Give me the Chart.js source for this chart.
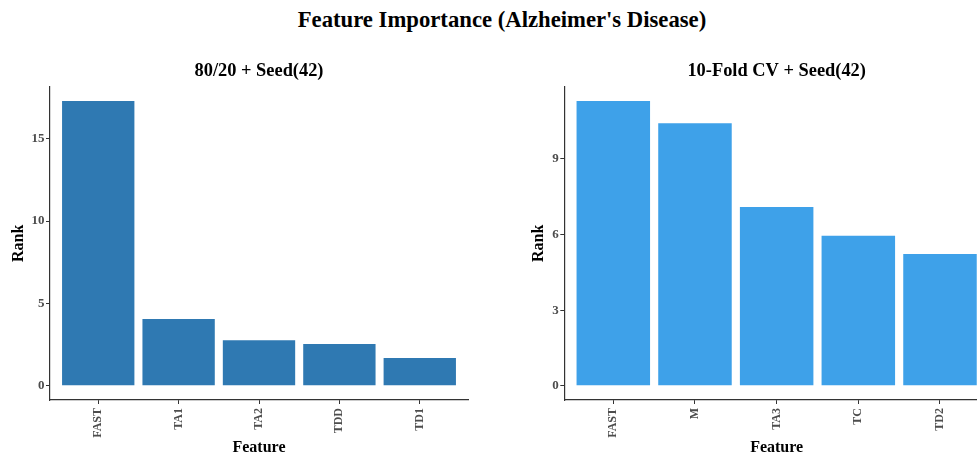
<!DOCTYPE html>
<html><head><meta charset="utf-8">
<script src="https://cdn.jsdelivr.net/npm/chart.js@4"></script>
<style>
html,body{margin:0;padding:0;width:977px;height:453px;overflow:hidden;background:#fff;}
#title{position:absolute;left:0;top:6px;width:1004px;text-align:center;font:bold 22.7px "Liberation Serif";color:#000;line-height:28px;}
.c{position:absolute;top:50px;}
</style></head><body>
<div id="title"></div>
<canvas id="c1" class="c" style="left:0px" width="490" height="410"></canvas>
<canvas id="c2" class="c" style="left:490px" width="520" height="410"></canvas>
<script>
const mainTitle = "Feature Importance (Alzheimer's Disease)";
const leftTitle = "80/20 + Seed(42)";
const rightTitle = "10-Fold CV + Seed(42)";
const xAxisTitle = "Feature";
const yAxisTitle = "Rank";
const leftFeatures = ["FAST", "TA1", "TA2", "TDD", "TD1"];
const leftRanks = [17.3, 4.05, 2.76, 2.53, 1.68];
const leftTicks = [0, 5, 10, 15];
const rightFeatures = ["FAST", "M", "TA3", "TC", "TD2"];
const rightRanks = [11.3, 10.41, 7.09, 5.95, 5.23];
const rightTicks = [0, 3, 6, 9];

document.getElementById('title').textContent = mainTitle;

const FAMILY = '"Liberation Serif", "Times New Roman", serif';

function makeChart(id, features, ranks, ticks, title, color, yWidth, rightPad, rankPad) {
  const maxV = Math.max(...ranks);
  const expand = maxV * 0.05;
  return new Chart(document.getElementById(id), {
    type: 'bar',
    data: {
      datasets: [{
        data: ranks.map((v, i) => ({x: i, y: v})),
        backgroundColor: color,
        borderWidth: 0,
        barPercentage: 0.9,
        categoryPercentage: 1.0
      }]
    },
    options: {
      responsive: false,
      animation: false,
      layout: {padding: {left: 0, right: rightPad, top: 0, bottom: 0}},
      plugins: {
        legend: {display: false},
        tooltip: {enabled: false},
        title: {
          display: true, text: title, fullSize: false, color: '#000',
          font: {family: FAMILY, size: 18.4, weight: 'bold', lineHeight: 1.2},
          padding: {top: 9.96, bottom: 4.66}
        }
      },
      scales: {
        x: {
          type: 'linear', min: -0.6, max: features.length - 0.4, offset: false,
          afterBuildTicks: s => { s.ticks = features.map((_, i) => ({value: i})); },
          afterFit: s => { s.height = 60; },
          ticks: {
            callback: v => features[v], autoSkip: false, maxRotation: 90, minRotation: 90,
            padding: 4, color: '#4D4D4D',
            font: {family: FAMILY, size: 12, weight: 'bold'}
          },
          grid: {display: true, offset: false, drawOnChartArea: false, drawTicks: true, tickLength: 4, color: '#333', tickWidth: 1},
          border: {display: true, color: '#333', width: 1.2},
          title: {
            display: true, text: xAxisTitle, color: '#000',
            font: {family: FAMILY, size: 16, weight: 'bold', lineHeight: 1.2},
            padding: {top: 0, bottom: 2.6}
          }
        },
        y: {
          min: -expand, max: maxV + expand,
          afterBuildTicks: s => { s.ticks = ticks.map(v => ({value: v})); },
          afterFit: s => { s.width = yWidth; },
          ticks: {
            padding: 1.5, color: '#4D4D4D',
            font: {family: FAMILY, size: 13, weight: 'bold'}
          },
          grid: {display: true, drawOnChartArea: false, drawTicks: true, tickLength: 4, color: '#333', tickWidth: 1},
          border: {display: true, color: '#333', width: 1.2},
          title: {
            display: true, text: yAxisTitle, color: '#000',
            font: {family: FAMILY, size: 16, weight: 'bold', lineHeight: 1.2},
            padding: {top: rankPad, bottom: 0}
          }
        }
      }
    }
  });
}

makeChart('c1', leftFeatures, leftRanks, leftTicks, leftTitle, '#2F79B2', 50, 22, 9.1);
makeChart('c2', rightFeatures, rightRanks, rightTicks, rightTitle, '#3EA1E9', 74.3, 21, 39.1);
</script>
</body></html>
